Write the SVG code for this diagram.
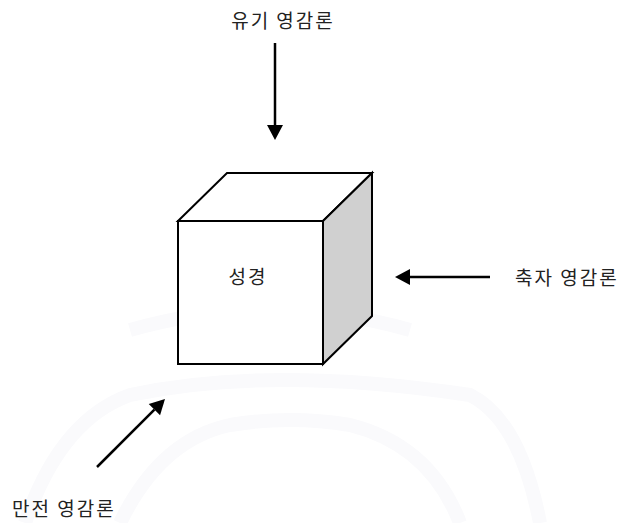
<svg xmlns="http://www.w3.org/2000/svg" width="631" height="523" viewBox="0 0 631 523">
  <style>
    .lbl { font-family: "Noto Sans CJK KR", "Noto Sans", sans-serif; font-size: 19px; fill: #222; letter-spacing: 2px; }
    .edge { stroke: #000; stroke-width: 2.5; fill: none; }
    .face { stroke: #000; stroke-width: 2; stroke-linejoin: miter; }
    .wm { fill: none; stroke: #fafafc; stroke-width: 14; }
  </style>
  <defs>
    <marker id="arrow" viewBox="0 -8 16 16" refX="0" refY="0" markerWidth="16" markerHeight="16" markerUnits="userSpaceOnUse" orient="auto" overflow="visible">
      <path d="M0,-8 L15,0 L0,8 Z" fill="#000"/>
    </marker>
  </defs>
  <rect width="631" height="523" fill="#fff"/>
  <g id="watermark">
    <path class="wm" d="M130,330 Q270,290 410,330"/>
    <path class="wm" d="M25,523 Q60,420 130,395 Q270,365 470,395 Q520,420 540,523"/>
    <path class="wm" d="M120,523 Q160,440 230,425 Q290,415 350,425 Q430,445 460,523"/>
  </g>
  <g id="cube">
    <polygon class="face" fill="#fff" points="178,221 227,173 372,173 323,221"/>
    <polygon class="face" fill="#d0d0d0" points="323,221 372,173 372,316 323,364"/>
    <rect class="face" fill="#fff" x="178" y="221" width="145" height="143"/>
    <text class="lbl" x="248" y="284" text-anchor="middle">성경</text>
  </g>
  <g id="label-top">
    <text class="lbl" x="283" y="28" text-anchor="middle">유기 영감론</text>
  </g>
  <g id="label-right">
    <text class="lbl" x="515" y="285">축자 영감론</text>
  </g>
  <g id="label-bottom">
    <text class="lbl" x="12" y="516">만전 영감론</text>
  </g>
  <g id="connectors">
    <line class="edge" x1="275" y1="43" x2="275" y2="125" marker-end="url(#arrow)"/>
    <line class="edge" x1="490" y1="277" x2="410" y2="277" marker-end="url(#arrow)"/>
    <line class="edge" x1="97" y1="467" x2="154.4" y2="409.6" marker-end="url(#arrow)"/>
  </g>
</svg>
